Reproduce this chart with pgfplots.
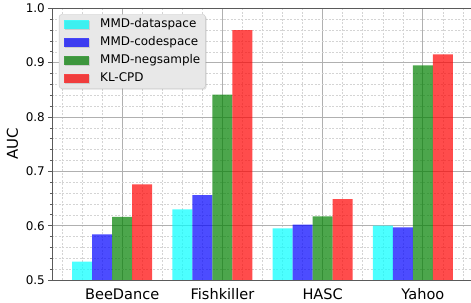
\documentclass[border=0pt]{standalone}
\usepackage{fontspec}
\setmainfont{DejaVu Sans}
\usepackage{pgfplots}
\pgfplotsset{compat=1.18}
\usetikzlibrary{calc,shadows}
\definecolor{gridmaj}{RGB}{176,176,176}
\definecolor{gridmin}{RGB}{212,212,212}
\definecolor{spine}{RGB}{90,90,90}
\definecolor{legfill}{RGB}{232,232,232}
\definecolor{legdraw}{RGB}{200,200,200}
\definecolor{mcyan}{RGB}{0,255,255}
\definecolor{mblue}{RGB}{0,0,255}
\definecolor{mgreen}{RGB}{0,128,0}
\definecolor{mred}{RGB}{255,0,0}
\begin{document}
\begin{tikzpicture}
\begin{axis}[
  scale only axis, width=419bp, height=271.7bp,
  xmin=-0.7, xmax=3.48, ymin=0.5, ymax=1.0,
  axis y line*=left,
  ybar, bar width=0.2, bar shift=0pt,
  xtick={0,1,2,3}, xticklabels={BeeDance,Fishkiller,HASC,Yahoo},
  minor xtick={-0.6,-0.4,-0.2,0.2,0.4,0.6,0.8,1.2,1.4,1.6,1.8,2.2,2.4,2.6,2.8,3.2,3.4},
  ytick={0.5,0.6,0.7,0.8,0.9,1.0}, yticklabels={0.5,0.6,0.7,0.8,0.9,1.0},
  minor ytick={0.52,0.54,0.56,0.58,0.62,0.64,0.66,0.68,0.72,0.74,0.76,0.78,0.82,0.84,0.86,0.88,0.92,0.94,0.96,0.98},
  grid=both,
  major grid style={gridmaj, line width=0.8bp},
  minor grid style={gridmin, dash pattern=on 2bp off 1.5bp, line width=0.5bp},
  x tick style={draw=none},
  tick align=outside,
  y tick style={spine, line width=0.6bp},
  major tick length=3.5bp, minor tick length=2bp,
  axis line style={spine, line width=0.8bp},
  xticklabel style={font=\fontsize{14.6}{16}\selectfont, inner sep=0pt, anchor=north, text height=11bp, text depth=0pt, yshift=-5bp},
  yticklabel style={font=\fontsize{12}{14}\selectfont, inner sep=0pt, anchor=east, xshift=-3.5bp},
  ylabel={AUC},
  every axis y label/.style={at={($(axis description cs:0,0.5)+(-39.5bp,0)$)}, rotate=90, anchor=center, font=\fontsize{15}{17}\selectfont},
  legend image code/.code={\fill[#1, sharp corners, draw=none] (0bp,-4.5bp) rectangle (25bp,4.5bp);},
  legend cell align=left,
  legend style={at={(0.0167,0.978)}, anchor=north west,
    font=\fontsize{12}{14}\selectfont,
    fill=legfill, draw=legdraw, rounded corners=2.5bp,
    inner xsep=5bp, inner ysep=4.5bp, row sep=7bp,
    nodes={inner sep=0pt, text height=8.5bp, text depth=2.5bp},
    /tikz/every odd column/.append style={column sep=11bp},
    drop shadow={shadow xshift=1.2bp, shadow yshift=-1.2bp, opacity=0.25}},
]
\addplot[fill=mcyan, draw=none, fill opacity=0.7] coordinates {(-0.4,0.534) (0.6,0.630) (1.6,0.595) (2.6,0.600)};
\addlegendentry{MMD-dataspace\hspace{6bp}}
\addplot[fill=mblue, draw=none, fill opacity=0.7] coordinates {(-0.2,0.584) (0.8,0.656) (1.8,0.602) (2.8,0.597)};
\addlegendentry{MMD-codespace\hspace{6bp}}
\addplot[fill=mgreen, draw=none, fill opacity=0.7] coordinates {(0,0.616) (1,0.841) (2,0.617) (3,0.895)};
\addlegendentry{MMD-negsample\hspace{6bp}}
\addplot[fill=mred, draw=none, fill opacity=0.7] coordinates {(0.2,0.676) (1.2,0.960) (2.2,0.649) (3.2,0.915)};
\addlegendentry{KL-CPD}
\coordinate (SW) at (rel axis cs:0,0);
\coordinate (NE) at (rel axis cs:1,1);
\end{axis}
\pgfresetboundingbox
\path[use as bounding box] ($(SW)+(-52bp,-23bp)$) rectangle ($(NE)+(0,8.3bp)$);
\end{tikzpicture}
\end{document}
